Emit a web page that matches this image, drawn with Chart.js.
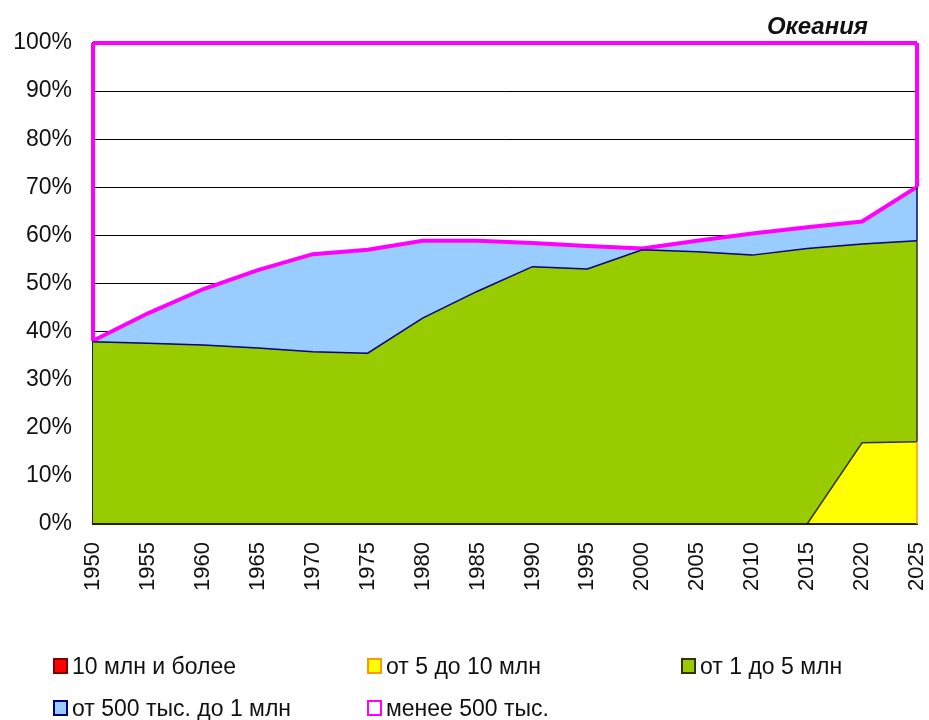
<!DOCTYPE html>
<html lang="ru">
<head>
<meta charset="utf-8">
<title>Океания</title>
<script src="https://cdn.jsdelivr.net/npm/chart.js@4/dist/chart.umd.min.js"></script>
<style>
body{margin:0;background:#fff;font-family:"Liberation Sans",Arial,sans-serif;}
#wrap{position:relative;width:929px;height:720px;}
#titulo{position:absolute;top:13px;right:61px;font-size:24px;font-weight:bold;font-style:italic;color:#111;line-height:26px;}
.ley{position:absolute;display:flex;align-items:center;font-size:23px;color:#111;line-height:26px;white-space:nowrap;}
.ley span.caja{display:inline-block;width:11px;height:12px;border:2px solid;margin-right:4px;}
</style>
</head>
<body>
<div id="wrap">
<canvas id="grafico" width="929" height="720"></canvas>
<div id="titulo">Океания</div>
</div>
<script>
// años (eje X)
const anios=["1950","1955","1960","1965","1970","1975","1980","1985","1990","1995","2000","2005","2010","2015","2020","2025"]

// participación de cada grupo de ciudades, %
const mas10mln=[0,0,0,0,0,0,0,0,0,0,0,0,0,0,0,0]
const de5a10mln=[0,0,0,0,0,0,0,0,0,0,0,0,0,0,16.9,17.1]
const de1a5mln=[37.9,37.6,37.2,36.6,35.8,35.5,42.8,48.4,53.5,53.0,57.0,56.6,55.9,57.3,41.3,41.8]
const de500a1mln=[0.2,6.2,11.6,16.2,20.3,21.5,16.1,10.5,4.9,4.8,0.3,2.3,4.5,4.4,4.7,11.2]
const menos500=[61.9,56.2,51.2,47.2,43.9,43.0,41.1,41.1,41.6,42.2,42.7,41.1,39.6,38.3,37.1,29.9]

const nombres=["10 млн и более","от 5 до 10 млн","от 1 до 5 млн","от 500 тыс. до 1 млн","менее 500 тыс."]
const series=[mas10mln,de5a10mln,de1a5mln,de500a1mln,menos500]
const relleno=["#FF0000","#FFFF00","#99CC00","#99CCFF","rgba(255,255,255,0)"]
const bordes=["#800000","#FF9900","#333300","#000080","#FF00FF"]
const grosor=[1.5,1.5,1.5,1.5,4]

// cada serie dibuja su borde superior con el color de la serie de arriba (como Excel)
const datasets=series.map((s,i)=>{
  const arriba=i<series.length-1?i+1:i
  return{
    label:nombres[i],
    data:s,
    backgroundColor:relleno[i],
    borderColor:i===0?"#222200":bordes[arriba],
    borderWidth:i===0?2:grosor[arriba],
    fill:i===0?"origin":(i===series.length-1?false:"-1"),
    pointRadius:0,
    tension:0,
    clip:false
  }
})

// bordes verticales de las áreas en los extremos
const bordesLaterales={
  id:"bordesLaterales",
  afterDatasetsDraw(chart){
    const ctx=chart.ctx
    const x=chart.scales.x
    const y=chart.scales.y
    ctx.save()
    ;[0,anios.length-1].forEach(idx=>{
      const px=x.getPixelForValue(idx)
      let acum=0
      series.forEach((s,i)=>{
        const base=acum
        acum+=s[idx]
        if(s[idx]<=0)return
        if(i<series.length-1&&idx===0)return
        ctx.strokeStyle=bordes[i]
        ctx.lineWidth=grosor[i]
        ctx.beginPath()
        ctx.moveTo(px,y.getPixelForValue(base))
        ctx.lineTo(px,y.getPixelForValue(Math.min(acum,100)))
        ctx.stroke()
      })
    })
    ctx.restore()
  }
}

const chart=new Chart(document.getElementById("grafico"),{
  type:"line",
  data:{labels:anios,datasets:datasets},
  plugins:[bordesLaterales],
  options:{
    responsive:false,
    animation:false,
    layout:{padding:{top:43,right:12,left:0,bottom:0}},
    plugins:{legend:{display:false},tooltip:{enabled:false},title:{display:false}},
    scales:{
      x:{
        grid:{display:false},
        border:{color:"#222",width:2},
        ticks:{
          autoSkip:false,minRotation:90,maxRotation:90,padding:10,
          color:"#111",font:{family:"'Liberation Sans', Arial",size:22}
        },
        afterFit(scale){scale.height=196;scale.paddingLeft=0;scale.paddingRight=0}
      },
      y:{
        stacked:true,min:0,max:100,
        grid:{color:"#000",lineWidth:1,drawTicks:false},
        border:{color:"#222",width:2},
        ticks:{
          stepSize:10,padding:21,color:"#111",
          font:{family:"'Liberation Sans', Arial",size:23},
          callback:v=>v+"%"
        },
        afterFit(scale){scale.width=93;scale.paddingTop=0;scale.paddingBottom=0}
      }
    }
  }
})

// leyenda en dos filas, tres columnas
const wrap=document.getElementById("wrap")
const columnas=[53,367,681]
const filas=[666,708]
nombres.forEach((n,i)=>{
  const d=document.createElement("div")
  d.className="ley"
  d.style.left=columnas[i%3]+"px"
  d.style.top=(filas[Math.floor(i/3)]-13)+"px"
  const caja=document.createElement("span")
  caja.className="caja"
  caja.style.background=i===4?"#fff":relleno[i]
  caja.style.borderColor=bordes[i]
  d.appendChild(caja)
  d.appendChild(document.createTextNode(n))
  wrap.appendChild(d)
})
</script>
</body>
</html>
